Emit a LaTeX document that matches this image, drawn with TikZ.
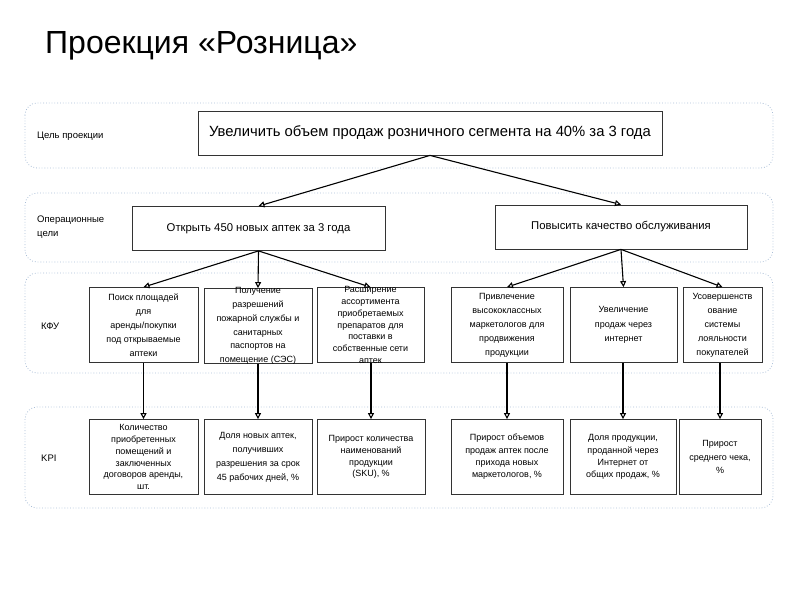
\documentclass[tikz,border=0pt]{standalone}
\usepackage{fontspec}
\setmainfont{Liberation Sans}
\definecolor{bandblue}{RGB}{170, 190, 215}
\usetikzlibrary{shapes, arrows.meta, positioning, calc}

\tikzset{
  band/.style={draw=bandblue, dotted, line width=0.8pt, rounded corners=12pt},
  bandlabel/.style={anchor=west, align=left, inner sep=0pt, font=\fontsize{9.5}{14}\selectfont},
  goalbox/.style={draw=black!80, line width=0.8pt, fill=white, minimum height=44pt, font=\fontsize{14.8}{18}\selectfont},
  opbox/.style={draw=black!80, line width=0.8pt, fill=white, minimum height=44pt, font=\fontsize{11.3}{13}\selectfont},
  smallbox/.style={draw=black!80, line width=0.8pt, fill=white, minimum height=75pt, inner sep=0pt},
  smalltext/.style={align=center, inner sep=0pt, font=\fontsize{9}{#1}\selectfont},
  smalltext/.default=14,
  arr/.style={draw=black, line width=1.1pt, -{Triangle[open, length=6pt, width=6pt]}}
}

\begin{document}
\begin{tikzpicture}[x=1pt, y=-1pt]
  \useasboundingbox (0,0) rectangle (800,600);
  \node[anchor=base west, inner sep=0pt, font=\fontsize{32}{38}\selectfont] (title) at (45,53) {Проекция «Розница»};

  % levels
  \draw[band] (25,103) rectangle (773,168);
  \draw[band] (25,193) rectangle (773,262);
  \draw[band] (25,273) rectangle (773,373);
  \draw[band] (25,407) rectangle (773,508);
  \node[bandlabel] (lgoal) at (37,136) {Цель проекции};
  \node[bandlabel] (lop) at (37,227) {Операционные\\цели};
  \node[bandlabel] (lkfu) at (41,326) {КФУ};
  \node[bandlabel] (lkpi) at (41,458) {KPI};

  % goal and operational goals
  \node[goalbox, minimum width=464pt] (goal) at (430,133) {Увеличить объем продаж розничного сегмента на 40\% за 3 года};
  \node[opbox, minimum width=253pt] (op1) at (258.5,228.5) {Открыть 450 новых аптек за 3 года};
  \node[opbox, minimum width=252pt] (op2) at (621,227) {Повысить качество обслуживания};

  % KFU
  \node[smallbox, minimum width=109pt, label={[smalltext]center:{Поиск площадей\\для\\аренды/покупки\\под открываемые\\аптеки}}] (kfu1) at (143.5,325) {};
  \node[smallbox, minimum width=108pt, label={[smalltext=13.8]center:{Получение\\разрешений\\пожарной службы и\\санитарных\\паспортов на\\помещение (СЭС)}}] (kfu2) at (258,326) {};
  \node[smallbox, minimum width=107pt, label={[smalltext=11.8]center:{Расширение\\ассортимента\\приобретаемых\\препаратов для\\поставки в\\собственные сети\\аптек}}] (kfu3) at (370.5,325) {};
  \node[smallbox, minimum width=112pt, label={[smalltext]center:{Привлечение\\высококлассных\\маркетологов для\\продвижения\\продукции}}] (kfu4) at (507,325) {};
  \node[smallbox, minimum width=107pt, label={[smalltext=14.5]center:{Увеличение\\продаж через\\интернет}}] (kfu5) at (623.5,325) {};
  \node[smallbox, minimum width=79pt, label={[smalltext]center:{Усовершенств\\ование\\системы\\лояльности\\покупателей}}] (kfu6) at (722.5,325) {};

  % KPI
  \node[smallbox, minimum width=109pt, label={[smalltext=11.8]center:{Количество\\приобретенных\\помещений и\\заключенных\\договоров аренды,\\шт.}}] (kpi1) at (143.5,457) {};
  \node[smallbox, minimum width=108pt, label={[smalltext]center:{Доля новых аптек,\\получивших\\разрешения за срок\\45 рабочих дней, \%}}] (kpi2) at (258,457) {};
  \node[smallbox, minimum width=108pt, label={[smalltext=11.8]center:{Прирост количества\\наименований\\продукции\\(SKU), \%}}] (kpi3) at (371,457) {};
  \node[smallbox, minimum width=112pt, label={[smalltext=12.3]center:{Прирост объемов\\продаж аптек после\\прихода новых\\маркетологов, \%}}] (kpi4) at (507,457) {};
  \node[smallbox, minimum width=106pt, label={[smalltext=12.3]center:{Доля продукции,\\проданной через\\Интернет от\\общих продаж, \%}}] (kpi5) at (623,457) {};
  \node[smallbox, minimum width=82pt, label={[smalltext=13.5]center:{Прирост\\среднего чека,\\\%}}] (kpi6) at (720,457) {};

  % connectors
  \draw[arr] (goal.south) -- (op1.north);
  \draw[arr] (goal.south) -- (op2.north);
  \foreach \a/\b in {op1/kfu1, op1/kfu2, op1/kfu3, op2/kfu4, op2/kfu5, op2/kfu6}
    \draw[arr] (\a.south) -- (\b.north);
  \foreach \i in {1,...,6}
    \draw[arr] (kpi\i.north |- kfu\i.south) -- (kpi\i.north);
\end{tikzpicture}
\end{document}
